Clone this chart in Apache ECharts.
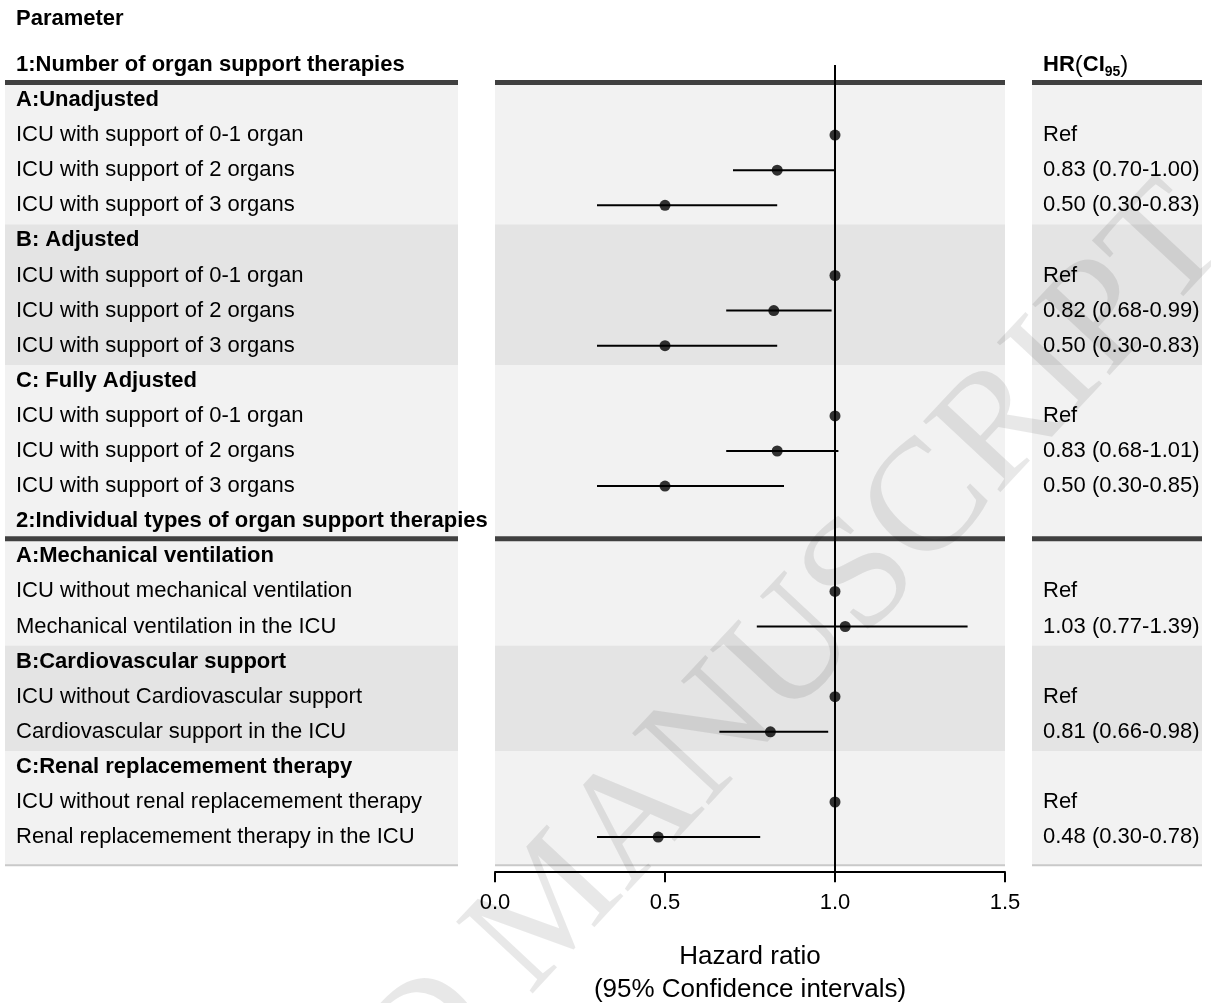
<!DOCTYPE html>
<html>
<head>
<meta charset="utf-8">
<title>Hazard ratios by organ support therapy</title>
<script src="https://cdn.jsdelivr.net/npm/echarts@6/dist/echarts.min.js"></script>
<style>
  html, body { margin: 0; padding: 0; background: #fff; }
  #chart { width: 1211px; height: 1003px; }
</style>
</head>
<body>
<div id="chart"></div>
<script>
// ---- Table rows (row k = index - 1) ----
const rowLabels = [
  '1:Number of organ support therapies',
  'A:Unadjusted',
  'ICU with support of 0-1 organ',
  'ICU with support of 2 organs',
  'ICU with support of 3 organs',
  'B: Adjusted',
  'ICU with support of 0-1 organ',
  'ICU with support of 2 organs',
  'ICU with support of 3 organs',
  'C: Fully Adjusted',
  'ICU with support of 0-1 organ',
  'ICU with support of 2 organs',
  'ICU with support of 3 organs',
  '2:Individual types of organ support therapies',
  'A:Mechanical ventilation',
  'ICU without mechanical ventilation',
  'Mechanical ventilation in the ICU',
  'B:Cardiovascular support',
  'ICU without Cardiovascular support',
  'Cardiovascular support in the ICU',
  'C:Renal replacemement therapy',
  'ICU without renal replacemement therapy',
  'Renal replacemement therapy in the ICU'
];
const headingRows = [0, 1, 5, 9, 13, 14, 17, 20];

// Hazard ratios with 95% confidence limits (reference rows have no limits)
const hazardRatio = [null, null, 1, 0.83, 0.50, null, 1, 0.82, 0.50, null, 1, 0.83, 0.50,
                     null, null, 1, 1.03, null, 1, 0.81, null, 1, 0.48];
const ciLower     = [null, null, null, 0.70, 0.30, null, null, 0.68, 0.30, null, null, 0.68, 0.30,
                     null, null, null, 0.77, null, null, 0.66, null, null, 0.30];
const ciUpper     = [null, null, null, 1.00, 0.83, null, null, 0.99, 0.83, null, null, 1.01, 0.85,
                     null, null, null, 1.39, null, null, 0.98, null, null, 0.78];

// Shaded blocks: [first row index, last row index, tone]
const blocks = [[1, 4, 'light'], [5, 8, 'dark'], [9, 13, 'light'],
                [14, 16, 'light'], [17, 19, 'dark'], [20, 22, 'light']];
// Thick rules above the two parts of the table (row indices)
const partRules = [1, 14];

const xTicks = [0, 0.5, 1, 1.5];

// ---- derived series data ----
const rowK = i => i - 1;
const labelData = rowLabels.map((t, i) => [rowK(i), i]);
const dotData = [], barData = [], hrTextData = [];
hazardRatio.forEach((v, i) => {
  if (v == null) return;
  dotData.push([v, rowK(i)]);
  if (ciLower[i] != null) barData.push([rowK(i), ciLower[i], ciUpper[i]]);
  hrTextData.push([rowK(i), i]);
});
const hrText = i => ciLower[i] == null
  ? 'Ref'
  : hazardRatio[i].toFixed(2) + ' (' + ciLower[i].toFixed(2) + '-' + ciUpper[i].toFixed(2) + ')';

const FONT = '"Liberation Sans", Arial, Helvetica, sans-serif';
const TONE = { light: '#f2f2f2', dark: '#e4e4e4' };

const blockData = blocks.map((b, j) => {
  const top = rowK(b[0]) - 0.45;
  const bottom = rowK(b[1]) + (j === blocks.length - 1 ? 0.8 : 0.6);
  const rule = partRules.indexOf(b[1] + 1) < 0 ? 1 : 0;
  return [top, bottom, b[2] === 'dark' ? 1 : 0, rule];
});
const ruleData = partRules.map(i => [rowK(i) - 0.5]);

function renderBlock(params, api) {
  const cs = params.coordSys;
  const y0 = api.coord([0, api.value(0)])[1];
  const y1 = api.coord([0, api.value(1)])[1];
  const children = [{
    type: 'rect',
    shape: { x: cs.x, y: y0, width: cs.width, height: y1 - y0 },
    style: { fill: api.value(2) ? TONE.dark : TONE.light }
  }];
  if (api.value(3)) {
    children.push({
      type: 'line',
      shape: { x1: cs.x, y1: y1, x2: cs.x + cs.width, y2: y1 },
      style: { stroke: '#c9c9c9', lineWidth: 2 }
    });
  }
  return { type: 'group', children };
}

function renderRule(params, api) {
  const cs = params.coordSys;
  const y = api.coord([0, api.value(0)])[1];
  return {
    type: 'line',
    shape: { x1: cs.x, y1: y, x2: cs.x + cs.width, y2: y },
    style: { stroke: '#404040', lineWidth: 5 }
  };
}

function renderLabel(params, api) {
  const cs = params.coordSys;
  const i = api.value(1);
  const y = api.coord([0, api.value(0)])[1];
  const bold = headingRows.indexOf(i) >= 0;
  return {
    type: 'text',
    x: cs.x + 11, y: y,
    style: {
      text: rowLabels[i], fill: '#000',
      font: (bold ? 'bold ' : '') + '22px ' + FONT,
      align: 'left', verticalAlign: 'middle'
    }
  };
}

function renderHrText(params, api) {
  const cs = params.coordSys;
  const i = api.value(1);
  const y = api.coord([0, api.value(0)])[1];
  return {
    type: 'text',
    x: cs.x + 11, y: y,
    style: {
      text: hrText(i), fill: '#000', font: '22px ' + FONT,
      align: 'left', verticalAlign: 'middle'
    }
  };
}

function renderHrHeader(params, api) {
  const cs = params.coordSys;
  const y = api.coord([0, api.value(0)])[1];
  return {
    type: 'text',
    x: cs.x + 11, y: y,
    style: {
      text: '{b|HR}{p|(}{b|CI}{s|95}{p|)}',
      align: 'left', verticalAlign: 'middle',
      rich: {
        b: { fontFamily: FONT, fontWeight: 'bold', fontSize: 22, lineHeight: 28, fill: '#000', verticalAlign: 'middle' },
        p: { fontFamily: FONT, fontSize: 24, lineHeight: 28, fill: '#000', verticalAlign: 'middle' },
        s: { fontFamily: FONT, fontWeight: 'bold', fontSize: 14, lineHeight: 14, fill: '#000', verticalAlign: 'bottom' }
      }
    }
  };
}

function renderBar(params, api) {
  const k = api.value(0);
  const p0 = api.coord([api.value(1), k]);
  const p1 = api.coord([api.value(2), k]);
  return {
    type: 'line',
    shape: { x1: p0[0], y1: p0[1], x2: p1[0], y2: p1[1] },
    style: { stroke: '#000', lineWidth: 2 }
  };
}

const Y_MIN = -2.5, Y_MAX = 22;
const yAxisBase = gi => ({ type: 'value', gridIndex: gi, inverse: true, min: Y_MIN, max: Y_MAX, show: false });
const gridBase = { top: 12.25, bottom: 130.8, containLabel: false, outerBoundsMode: 'none' };

const chart = echarts.init(document.getElementById('chart'), null, { renderer: 'canvas' });
chart.setOption({
  animation: false,
  backgroundColor: '#fff',
  title: {
    text: 'Parameter', left: 11, top: 3,
    textStyle: { fontFamily: FONT, fontWeight: 'bold', fontSize: 22, color: '#000' }
  },
  grid: [
    Object.assign({ left: 5, width: 453 }, gridBase),
    Object.assign({ left: 495, width: 510 }, gridBase),
    Object.assign({ left: 1032, width: 170 }, gridBase)
  ],
  xAxis: [
    { type: 'value', gridIndex: 0, min: 0, max: 1, show: false },
    {
      type: 'value', gridIndex: 1, min: 0, max: 1.5, interval: 0.5,
      splitLine: { show: false },
      axisLine: { show: true, onZero: false, lineStyle: { color: '#000', width: 2 } },
      axisTick: { show: true, inside: false, length: 10, lineStyle: { color: '#000', width: 2 },
                  customValues: xTicks },
      axisLabel: { show: true, margin: 20, fontFamily: FONT, fontSize: 22, color: '#000',
                   customValues: xTicks, formatter: v => v.toFixed(1) },
      name: 'Hazard ratio\n(95% Confidence intervals)',
      nameLocation: 'middle', nameGap: 68,
      nameTextStyle: { fontFamily: FONT, fontSize: 26, lineHeight: 33, color: '#000' }
    },
    { type: 'value', gridIndex: 2, min: 0, max: 1, show: false }
  ],
  yAxis: [yAxisBase(0), yAxisBase(1), yAxisBase(2)],
  series: [
    // shaded blocks in each column
    { type: 'custom', name: 'blocks', xAxisIndex: 0, yAxisIndex: 0, data: blockData, renderItem: renderBlock, z: 1, silent: true },
    { type: 'custom', name: 'blocks', xAxisIndex: 1, yAxisIndex: 1, data: blockData, renderItem: renderBlock, z: 1, silent: true },
    { type: 'custom', name: 'blocks', xAxisIndex: 2, yAxisIndex: 2, data: blockData, renderItem: renderBlock, z: 1, silent: true },
    // thick part rules
    { type: 'custom', name: 'rules', xAxisIndex: 0, yAxisIndex: 0, data: ruleData, renderItem: renderRule, z: 2, silent: true },
    { type: 'custom', name: 'rules', xAxisIndex: 1, yAxisIndex: 1, data: ruleData, renderItem: renderRule, z: 2, silent: true },
    { type: 'custom', name: 'rules', xAxisIndex: 2, yAxisIndex: 2, data: ruleData, renderItem: renderRule, z: 2, silent: true },
    // row labels
    { type: 'custom', name: 'labels', xAxisIndex: 0, yAxisIndex: 0, data: labelData, renderItem: renderLabel, z: 5, silent: true },
    // line of no effect
    {
      type: 'line', name: 'no effect', xAxisIndex: 1, yAxisIndex: 1,
      data: [[1, -1], [1, Y_MAX]], showSymbol: false, symbol: 'none',
      lineStyle: { color: '#000', width: 2 }, z: 3, silent: true
    },
    // confidence intervals
    {
      type: 'custom', name: 'CI95', xAxisIndex: 1, yAxisIndex: 1, data: barData,
      encode: { x: [1, 2], y: 0 }, renderItem: renderBar, z: 4, silent: true
    },
    // point estimates
    {
      type: 'scatter', name: 'HR', xAxisIndex: 1, yAxisIndex: 1, data: dotData,
      symbol: 'circle', symbolSize: 11, itemStyle: { color: '#000' }, z: 5, silent: true
    },
    // HR (CI95) column
    { type: 'custom', name: 'HR header', xAxisIndex: 2, yAxisIndex: 2, data: [[-1]], renderItem: renderHrHeader, z: 5, silent: true },
    { type: 'custom', name: 'HR text', xAxisIndex: 2, yAxisIndex: 2, data: hrTextData, renderItem: renderHrText, z: 5, silent: true }
  ],
  graphic: [{
    type: 'text', x: 555, y: 908, rotation: 0.82, z: 100, silent: true,
    style: {
      text: 'ACCEPTED MANUSCRIPT', fill: 'rgba(0,0,0,0.09)',
      font: '160px "Liberation Serif", "Times New Roman", serif',
      align: 'center', verticalAlign: 'middle'
    }
  }]
});
</script>
</body>
</html>
